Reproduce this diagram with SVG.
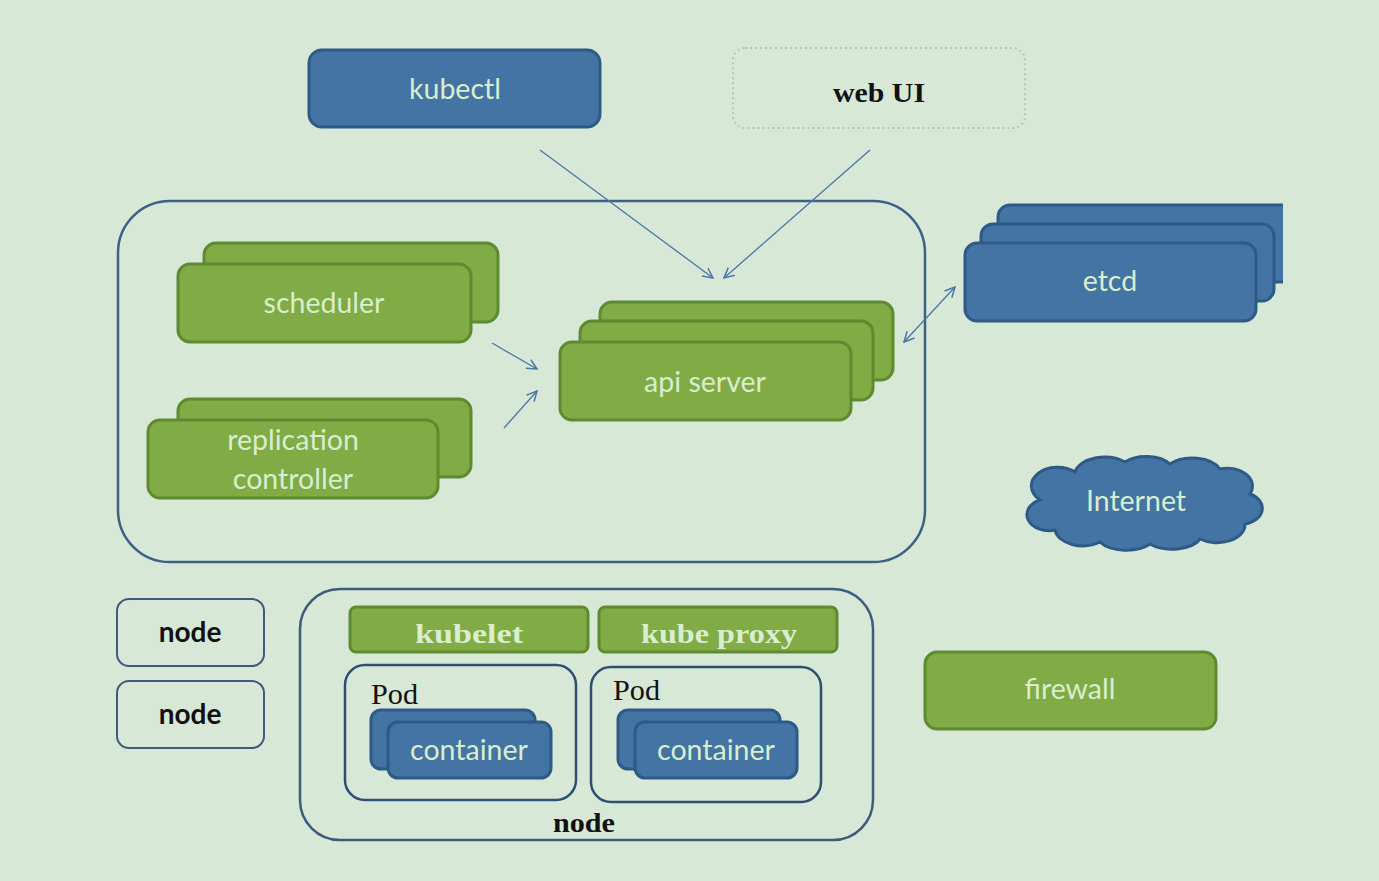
<svg xmlns="http://www.w3.org/2000/svg" width="1379" height="881" viewBox="0 0 1379 881">
<defs>
<style>
.g{fill:#80ab45;stroke:#5e8a31;stroke-width:3}
.b{fill:#4374a3;stroke:#2d5a86;stroke-width:3}
.frame{fill:none;stroke:#3d6089;stroke-width:2.5}
.lt{font-family:Lato,"Open Sans",sans-serif;font-size:28.5px;fill:#d9edcf;text-anchor:middle}
.sr{font-family:"Liberation Serif",serif;font-weight:bold;font-size:28px;text-anchor:middle}
.pod{font-family:"Liberation Serif",serif;font-size:30px;fill:#111;text-anchor:start}
.nd{font-family:Lato,"Open Sans",sans-serif;font-weight:bold;font-size:28px;fill:#111;text-anchor:middle}
.c{fill:none;stroke:#4a77a8;stroke-width:1.3}
</style>
<marker id="ah" viewBox="0 0 12 12" refX="11" refY="6" markerWidth="12" markerHeight="12" markerUnits="userSpaceOnUse" orient="auto-start-reverse">
<path d="M1,1 L11,6 L1,11" fill="none" stroke="#4a77a8" stroke-width="1.5"/>
</marker>
<clipPath id="clipR"><rect x="0" y="0" width="1283" height="881"/></clipPath>
</defs>
<rect width="1379" height="881" fill="#d8e8d6"/>

<g id="kubectl">
<rect x="309" y="50" width="291" height="77" rx="13" class="b"/>
<text x="455" y="99" class="lt">kubectl</text>
</g>
<g id="webui">
<rect x="733" y="48" width="292" height="80" rx="12" fill="none" stroke="#b9c4bb" stroke-width="2" stroke-dasharray="2 3"/>
<text x="879" y="102" class="sr" fill="#111" textLength="92" lengthAdjust="spacingAndGlyphs">web UI</text>
</g>

<g id="master">
<rect x="118" y="201" width="807" height="361" rx="52" class="frame"/>
</g>

<g id="scheduler">
<rect x="204" y="243" width="294" height="79" rx="12" class="g"/>
<rect x="178" y="264" width="293" height="78" rx="12" class="g"/>
<text x="324" y="313" class="lt">scheduler</text>
</g>

<g id="replication-controller">
<rect x="178" y="399" width="293" height="78" rx="12" class="g"/>
<rect x="148" y="420" width="290" height="78" rx="12" class="g"/>
<text x="293" y="450" class="lt">replication</text>
<text x="293" y="489" class="lt">controller</text>
</g>

<g id="api-server">
<rect x="600" y="302" width="293" height="78" rx="12" class="g"/>
<rect x="580" y="321" width="293" height="79" rx="12" class="g"/>
<rect x="560" y="342" width="291" height="78" rx="12" class="g"/>
<text x="705" y="392" class="lt">api server</text>
</g>

<g id="etcd">
<g clip-path="url(#clipR)">
<rect x="998" y="205" width="310" height="77" rx="12" class="b"/>
</g>
<rect x="981" y="224" width="293" height="77" rx="12" class="b"/>
<rect x="965" y="243" width="291" height="78" rx="12" class="b"/>
<text x="1110" y="291" class="lt">etcd</text>
</g>

<g id="internet">
<path d="M1040,500 a25,18 0 0,1 35,-28 a30,18 0 0,1 50,-10 a28,16 0 0,1 45,2 a30,18 0 0,1 50,5 a25,18 0 0,1 30,25 a22,16 0 0,1 -5,30 a28,18 0 0,1 -45,15 a30,16 0 0,1 -50,5 a30,16 0 0,1 -50,-2 a28,18 0 0,1 -45,-12 a22,16 0 0,1 -15,-30 z" class="b" stroke-width="2"/>
<text x="1136" y="511" class="lt">Internet</text>
</g>

<g id="firewall">
<rect x="925" y="652" width="291" height="77" rx="12" class="g"/>
<text x="1070" y="699" class="lt">firewall</text>
</g>

<g id="node1">
<rect x="117" y="599" width="147" height="67" rx="12" fill="none" stroke="#3d5c7d" stroke-width="2"/>
<text x="190" y="642" class="nd">node</text>
</g>
<g id="node2">
<rect x="117" y="681" width="147" height="67" rx="12" fill="none" stroke="#3d5c7d" stroke-width="2"/>
<text x="190" y="724" class="nd">node</text>
</g>

<g id="node-main">
<rect x="300" y="589" width="573" height="251" rx="40" fill="none" stroke="#3d5c7d" stroke-width="2.5"/>
<text x="584" y="832" class="sr" fill="#111" textLength="62" lengthAdjust="spacingAndGlyphs">node</text>
</g>

<g id="kubelet">
<rect x="350" y="607" width="238" height="45" rx="6" class="g"/>
<text x="469" y="643" class="sr" fill="#d9edcf" textLength="108" lengthAdjust="spacingAndGlyphs">kubelet</text>
</g>
<g id="kube-proxy">
<rect x="599" y="607" width="238" height="45" rx="6" class="g"/>
<text x="719" y="643" class="sr" fill="#d9edcf" textLength="156" lengthAdjust="spacingAndGlyphs">kube proxy</text>
</g>

<g id="pod1">
<rect x="345" y="665" width="231" height="135" rx="20" fill="none" stroke="#2f4f72" stroke-width="2.5"/>
<text x="371" y="704" class="pod" textLength="47" lengthAdjust="spacingAndGlyphs">Pod</text>
</g>
<g id="container1">
<rect x="371" y="710" width="164" height="59" rx="10" class="b"/>
<rect x="388" y="722" width="163" height="56" rx="10" class="b"/>
<text x="469" y="760" class="lt">container</text>
</g>

<g id="pod2">
<rect x="591" y="667" width="230" height="135" rx="20" fill="none" stroke="#2f4f72" stroke-width="2.5"/>
<text x="613" y="700" class="pod" textLength="47" lengthAdjust="spacingAndGlyphs">Pod</text>
</g>
<g id="container2">
<rect x="618" y="710" width="162" height="59" rx="10" class="b"/>
<rect x="635" y="722" width="162" height="56" rx="10" class="b"/>
<text x="716" y="760" class="lt">container</text>
</g>

<g id="connectors">
<line x1="540" y1="150" x2="713" y2="278" class="c" marker-end="url(#ah)"/>
<line x1="870" y1="150" x2="724" y2="278" class="c" marker-end="url(#ah)"/>
<line x1="492" y1="343" x2="537" y2="369" class="c" marker-end="url(#ah)"/>
<line x1="504" y1="428" x2="537" y2="391" class="c" marker-end="url(#ah)"/>
<line x1="955" y1="287" x2="904" y2="342" class="c" marker-start="url(#ah)" marker-end="url(#ah)"/>
</g>
</svg>
